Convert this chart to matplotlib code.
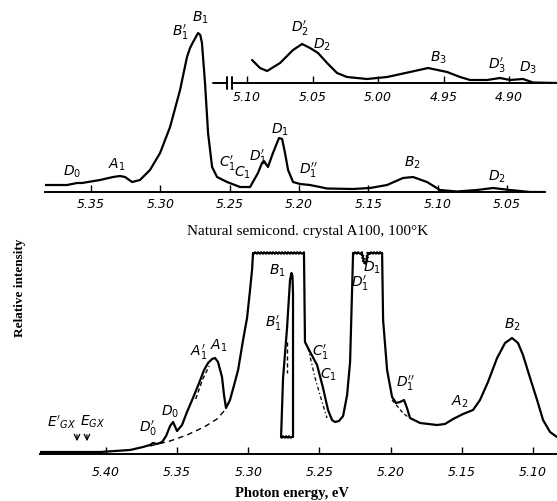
import numpy as np
import matplotlib.pyplot as plt

plt.rcParams['mathtext.fontset'] = 'dejavusans'
plt.rcParams['lines.solid_joinstyle'] = 'round'
plt.rcParams['lines.solid_capstyle'] = 'round'

# ---------- top panel: main spectrum ----------
top_e = [5.3832, 5.3673, 5.3601, 5.3565, 5.3435, 5.3341, 5.3291, 5.3255, 5.3204, 5.3147,
         5.3075, 5.3002, 5.2930, 5.2858, 5.2808, 5.2786, 5.2764, 5.2740, 5.2728, 5.2712,
         5.2700, 5.2678, 5.2656, 5.2627, 5.2591, 5.2519, 5.2425, 5.2353, 5.2296, 5.2267,
         5.2253, 5.2224, 5.2188, 5.2159, 5.2144, 5.2122, 5.2101, 5.2079, 5.2043, 5.1993,
         5.1921, 5.1849, 5.1798, 5.1611, 5.1488, 5.1365, 5.1250, 5.1178, 5.1077, 5.0983,
         5.0861, 5.0716, 5.0601, 5.0478, 5.0334, 5.0226]
top_i = [7, 7, 9, 9, 12, 15, 16, 15, 10, 12,
         22, 39, 65, 102, 135, 144, 150, 156, 159, 157,
         149, 109, 59, 25, 15, 10, 5, 5, 19, 29,
         31, 25, 39, 49, 54, 53, 39, 22, 10, 8,
         7, 5, 3.5, 3, 4, 7, 14, 15, 10, 2,
         0.5, 2, 4, 2, 0, 0]
top_ticks = [5.35, 5.30, 5.25, 5.20, 5.15, 5.10, 5.05]

# ---------- top inset: low-energy part ----------
ins_e = [5.0962, 5.0901, 5.0847, 5.0748, 5.0649, 5.0580, 5.0519, 5.0458, 5.0389, 5.0313,
         5.0237, 5.0084, 4.9931, 4.9756, 4.9618, 4.9473, 4.9374, 4.9298, 4.9168, 4.9069,
         4.8992, 4.8893, 4.8817, 4.8634]
ins_i = [23, 15, 12, 20, 33, 39, 35, 30, 20, 10,
         6, 4, 6, 11, 15, 11, 6, 3, 3, 5,
         3, 4, 0.5, 0]
ins_ticks = [5.10, 5.05, 5.00, 4.95, 4.90]

# ---------- bottom panel: high-sensitivity spectrum ----------
bot1_e = [5.4464, 5.4042, 5.3831, 5.3740, 5.3691, 5.3670, 5.3642, 5.3606, 5.3578, 5.3550,
          5.3529, 5.3501, 5.3466, 5.3431, 5.3389, 5.3346, 5.3311, 5.3283, 5.3255, 5.3234,
          5.3213, 5.3185, 5.3171, 5.3157, 5.3129, 5.3100, 5.3072, 5.3037, 5.3009, 5.2988,
          5.2974, 5.2967]
bot1_i = [2, 2, 4, 7, 9, 11, 10, 12, 18, 28,
          32, 23, 29, 42, 56, 71, 84, 91, 95, 96,
          92, 77, 59, 46, 54, 69, 84, 114, 136, 164,
          184, 201]
sat1_e = [5.2967, 5.2609]
sat1_i = [201, 201]
bot2_e = [5.2609, 5.2602, 5.2566, 5.2517, 5.2475, 5.2440, 5.2412, 5.2391, 5.2363, 5.2334,
          5.2306, 5.2285, 5.2271, 5.2264]
bot2_i = [201, 112, 102, 89, 66, 44, 34, 32, 33, 38,
          59, 92, 164, 201]
sat2_e = [5.2264, 5.2201, 5.2187, 5.2173, 5.2159, 5.2060]
sat2_i = [201, 201, 191, 191, 201, 201]
bot3_e = [5.2060, 5.2053, 5.2025, 5.1990, 5.1962, 5.1934, 5.1906, 5.1885, 5.1864, 5.1793,
          5.1674, 5.1618, 5.1561, 5.1491, 5.1421, 5.1372, 5.1316, 5.1252, 5.1196, 5.1147,
          5.1105, 5.1070, 5.1020, 5.0971, 5.0929, 5.0880, 5.0831]
bot3_i = [201, 134, 84, 57, 51, 52, 54, 46, 36, 31,
          29, 30, 35, 40, 44, 54, 72, 96, 111, 116,
          111, 99, 76, 54, 34, 22, 17]
# B1 line recorded at lower gain (inside the saturated block)
b1_e = [5.2770, 5.2756, 5.2728, 5.2707, 5.2697, 5.2690, 5.2686, 5.2686]
b1_i = [17, 76, 126, 174, 181, 178, 160, 17]
b1_floor_e = [5.2770, 5.2686]
b1_floor_i = [17, 17]
# dashed background / decomposition lines
bg_e = [5.3691, 5.3550, 5.3431, 5.3311, 5.3220, 5.3164]
bg_i = [8, 13, 19, 27, 35, 44]
a1_e = [5.3370, 5.3320, 5.3275]
a1_i = [55, 75, 88]
b1d_e = [5.2727, 5.2727]
b1d_i = [112, 81]
c1_e = [5.2580, 5.2531, 5.2482, 5.2447]
c1_i = [106, 76, 52, 36]
d1_e = [5.1990, 5.1913, 5.1878]
d1_i = [54, 41, 37]
bot_ticks = [5.40, 5.35, 5.30, 5.25, 5.20, 5.15, 5.10]

W, H = 557, 501
fig = plt.figure(figsize=(W / 100, H / 100), dpi=100)


def px_axes(x0, x1, ybot, ytop):
    return fig.add_axes([x0 / W, 1 - ybot / H, (x1 - x0) / W, (ybot - ytop) / H])


def style(ax, ticks, pad, fs=9):
    ax.set_facecolor('none')
    for s in ['top', 'left', 'right']:
        ax.spines[s].set_visible(False)
    ax.spines['bottom'].set_linewidth(1.4)
    ax.set_yticks([])
    ax.set_xticks(ticks)
    ax.set_xticklabels(['%.2f' % t for t in ticks], fontstyle='italic', fontsize=fs)
    ax.tick_params(axis='x', direction='in', length=5, width=1, pad=pad)


lw = 1.6
lab = dict(fontsize=10, ha='center', va='center')

# top main
ax1 = px_axes(45, 545, 192, 10)
ax1.plot(top_e, top_i, color='black', lw=lw)
ax1.set_xlim(5.3832, 5.0226)
ax1.set_ylim(0, 182)
style(ax1, top_ticks, 4)
for t, x, y in [('$D_0$', 5.3637, 20), ('$A_1$', 5.3313, 27), ("$B_1'$", 5.2858, 160),
                ('$B_1$', 5.2714, 174), ("$C_1'$", 5.2519, 29), ('$C_1$', 5.2411, 19),
                ("$D_1'$", 5.2296, 35), ('$D_1$', 5.2137, 62), ("$D_1''$", 5.1935, 22),
                ('$B_2$', 5.1185, 29), ('$D_2$', 5.0572, 15)]:
    ax1.text(x, y, t, **lab)

# top inset
ax2 = px_axes(213, 557, 83, 10)
ax2.plot(ins_e, ins_i, color='black', lw=lw)
ax2.set_xlim(5.1260, 4.8634)
ax2.set_ylim(0, 73)
style(ax2, ins_ticks, 6)
ax2.spines['bottom'].set_bounds(5.1108, 4.8634)
ax2.plot([5.1260, 5.1152], [0, 0], color='black', lw=1.4, clip_on=False)
for xb in [5.1150, 5.1112]:
    ax2.plot([xb, xb], [6, -6], color='black', lw=1.4, clip_on=False)
for t, x, y in [("$D_2'$", 5.0595, 55), ('$D_2$', 5.0427, 38), ('$B_3$', 4.9542, 25),
                ("$D_3'$", 4.9092, 18), ('$D_3$', 4.8855, 15)]:
    ax2.text(x, y, t, **lab)

# bottom
ax3 = px_axes(40, 557, 454, 240)
for xs, ys in [(bot1_e, bot1_i), (bot2_e, bot2_i), (bot3_e, bot3_i), (b1_e, b1_i)]:
    ax3.plot(xs, ys, color='black', lw=lw)
for xs, ys in [(sat1_e, sat1_i), (sat2_e, sat2_i), (b1_floor_e, b1_floor_i)]:
    ln, = ax3.plot(xs, ys, color='black', lw=1.4)
    ln.set_sketch_params(1.0, 3, 1)
ax3.plot(bg_e, bg_i, color='black', lw=1, ls=(0, (4, 3)))
ax3.plot(a1_e, a1_i, color='black', lw=1, ls=(0, (3, 2)))
ax3.plot(b1d_e, b1d_i, color='black', lw=1, ls=(0, (3, 2)))
ax3.plot(c1_e, c1_i, color='black', lw=0.9, ls=(0, (3, 2, 1, 2)))
ax3.plot(d1_e, d1_i, color='black', lw=0.9, ls=(0, (3, 2)))
ax3.set_xlim(5.4464, 5.0831)
ax3.set_ylim(0, 214)
style(ax3, bot_ticks, 9)
for t, x, y in [("$E'_{GX}$", 5.4309, 32), ('$E_{GX}$', 5.4098, 32), ("$D_0'$", 5.3705, 26),
                ('$D_0$', 5.3550, 42), ("$A_1'$", 5.3346, 102), ('$A_1$', 5.3206, 108),
                ('$B_1$', 5.2798, 183), ("$B_1'$", 5.2826, 131), ("$C_1'$", 5.2496, 102),
                ('$C_1$', 5.2440, 79), ("$D_1'$", 5.2215, 171), ('$D_1$', 5.2131, 186),
                ("$D_1''$", 5.1899, 71), ('$A_2$', 5.1512, 52), ('$B_2$', 5.1147, 129)]:
    ax3.text(x, y, t, **lab)
for xa in [5.4204, 5.4134]:
    ax3.annotate('', xy=(xa, 10), xytext=(xa, 22),
                 arrowprops=dict(arrowstyle='->', color='black', lw=0.9))

fig.text(308 / W, 1 - 232 / H, 'Natural semicond. crystal A100, 100°K',
         family='Liberation Serif', fontsize=11, ha='center', va='center')
fig.text(292 / W, 1 - 493 / H, 'Photon energy, eV',
         family='Liberation Serif', fontweight='bold', fontsize=10.5, ha='center', va='center')
fig.text(20 / W, 1 - 288 / H, 'Relative intensity', rotation=90,
         family='Liberation Serif', fontweight='bold', fontsize=9.5, ha='center', va='center')

fig.savefig('out.png', dpi=100)
